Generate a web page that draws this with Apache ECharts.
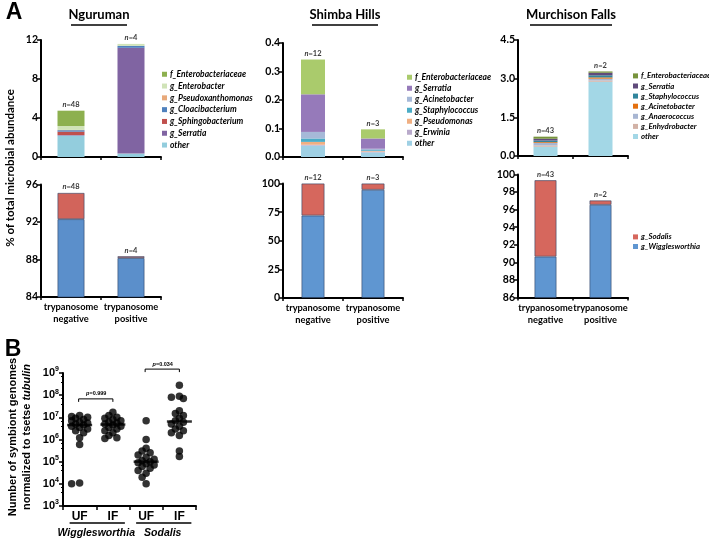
<!DOCTYPE html>
<html><head><meta charset="utf-8">
<script src="https://cdn.jsdelivr.net/npm/echarts@6/dist/echarts.min.js"></script>
<style>html,body{margin:0;padding:0;background:#fff}#c{width:709px;height:541px}</style>
</head><body><div id="c"></div>
<script>
// ---------------- DATA ----------------
const trypCats = ['trypanosome\nnegative', 'trypanosome\npositive'];

// Nguruman (top, % abundance of minor taxa) [negative, positive]
const ngOther = [2.20, 0.35];
const ngSerratia = [0.05, 10.85];
const ngSphingobacterium = [0.35, 0.00];
const ngCloacibacterium = [0.15, 0.20];
const ngPseudoxanthomonas = [0.03, 0.00];
const ngEnterobacter = [0.40, 0.20];
const ngEnterobacteriaceae = [1.57, 0.00];
const ngWigglesworthia = [92.30, 88.15];
const ngSodalis = [2.80, 0.20];
const ngN = ['48', '4'];

// Shimba Hills
const shOther = [0.040, 0.016];
const shErwinia = [0.003, 0.003];
const shPseudomonas = [0.010, 0.002];
const shStaphylococcus = [0.012, 0.003];
const shAcinetobacter = [0.023, 0.005];
const shSerratia = [0.132, 0.036];
const shEnterobacteriaceae = [0.122, 0.032];
const shWigglesworthia = [72.0, 94.5];
const shSodalis = [28.0, 5.5];
const shN = ['12', '3'];

// Murchison Falls
const mfOther = [0.36, 2.88];
const mfEnhydrobacter = [0.05, 0.05];
const mfAnaerococcus = [0.10, 0.07];
const mfAcinetobacter = [0.03, 0.05];
const mfStaphylococcus = [0.06, 0.08];
const mfSerratia = [0.07, 0.10];
const mfEnterobacteriaceae = [0.08, 0.05];
const mfWigglesworthia = [90.65, 96.55];
const mfSodalis = [8.70, 0.50];
const mfN = ['43', '2'];

// Panel B: symbiont genomes normalized to tsetse tubulin
const bCats = ['UF', 'IF', 'UF', 'IF'];
const bGroups = ['Wigglesworthia', 'Sodalis'];
const wigUF = [1.2e7, 1.1e7, 1.0e7, 9e6, 8e6, 7e6, 6e6, 5.5e6, 5e6, 4.5e6, 4e6, 3.5e6, 3e6, 2.5e6, 2e6, 1.2e6, 6e5, 1.0e4, 1.1e4];
const wigIF = [1.7e7, 1.2e7, 1.0e7, 9e6, 8e6, 7e6, 6e6, 5.5e6, 5e6, 4.5e6, 4e6, 3.5e6, 3e6, 2.5e6, 2e6, 1.5e6, 1.2e6, 1.1e6];
const sodUF = [7e6, 1e6, 4e5, 3e5, 2.5e5, 2e5, 1.6e5, 1.3e5, 1.1e5, 1e5, 9e4, 8e4, 7e4, 6e4, 5e4, 4e4, 3e4, 2e4, 1e4];
const sodIF = [2.8e8, 9e7, 8e7, 7e7, 2e7, 1.5e7, 1.2e7, 9e6, 7e6, 6e6, 5e6, 4e6, 3e6, 2.5e6, 2e6, 1.5e6, 3e5, 1.7e5];
const pValues = ['0.999', '0.034'];
const pHeights = [6.8e7, 1.5e9];

// ---------------- CHART ----------------
const FA = 'Lato, "Open Sans", sans-serif';
const FB = '"Liberation Sans", Arial, sans-serif';

// layers bottom -> top
const ngLayers = [
  ['other', ngOther, '#93CDDD'], ['g_Serratia', ngSerratia, '#8064A2'], ['g_Sphingobacterium', ngSphingobacterium, '#C0504D'],
  ['g_Cloacibacterium', ngCloacibacterium, '#4F81BD'], ['g_Pseudoxanthomonas', ngPseudoxanthomonas, '#E8A97A'],
  ['g_Enterobacter', ngEnterobacter, '#D0E3B8'], ['f_Enterobacteriaceae', ngEnterobacteriaceae, '#8DB04F']];
const shLayers = [
  ['other', shOther, '#9FD0E4'], ['g_Erwinia', shErwinia, '#B9AACB'], ['g_Pseudomonas', shPseudomonas, '#F0AF82'],
  ['g_Staphylococcus', shStaphylococcus, '#4BACC6'], ['g_Acinetobacter', shAcinetobacter, '#A6B9D8'],
  ['g_Serratia', shSerratia, '#967ABA'], ['f_Enterobacteriaceae', shEnterobacteriaceae, '#AACB6C']];
const mfLayers = [
  ['other', mfOther, '#A3D7E6'], ['g_Enhydrobacter', mfEnhydrobacter, '#D2B2A6'], ['g_Anaerococcus', mfAnaerococcus, '#A8B6D2'],
  ['g_Acinetobacter', mfAcinetobacter, '#E4700F'], ['g_Staphylococcus', mfStaphylococcus, '#31859C'],
  ['g_Serratia', mfSerratia, '#604A7B'], ['f_Enterobacteriaceae', mfEnterobacteriaceae, '#77933C']];
const ngSym = [['g_Wigglesworthia', ngWigglesworthia, '#5B8FCB'], ['g_Sodalis', ngSodalis, '#D2645B']];
const shSym = [['g_Wigglesworthia', shWigglesworthia, '#5F96D1'], ['g_Sodalis', shSodalis, '#D6675D']];
const mfSym = [['g_Wigglesworthia', mfWigglesworthia, '#5F96D1'], ['g_Sodalis', mfSodalis, '#D6675D']];

const grid = [
  {left: 41, top: 40, width: 120, height: 117},
  {left: 41, top: 184.5, width: 120, height: 112.5},
  {left: 283, top: 43, width: 120, height: 114},
  {left: 283, top: 183.5, width: 120, height: 114.5},
  {left: 518, top: 40, width: 110, height: 116},
  {left: 518, top: 174.5, width: 110, height: 123},
  {left: 63, top: 373, width: 133, height: 133}
];

function catX(gi, showLabel) {
  return {type: 'category', gridIndex: gi, data: trypCats,
    axisLine: {onZero: false, lineStyle: {color: '#000', width: 2}},
    axisTick: {show: true, length: 3, lineStyle: {color: '#000', width: 1.5}},
    axisLabel: {show: showLabel, interval: 0, color: '#000', fontFamily: FA, fontWeight: 'bold', fontSize: 9.3, lineHeight: 12, margin: 4},
    splitLine: {show: false}};
}
function valY(gi, min, max, interval, fmt) {
  return {type: 'value', gridIndex: gi, min, max, interval,
    axisLine: {show: true, lineStyle: {color: '#000', width: 2}},
    axisTick: {show: true, length: 4, lineStyle: {color: '#000', width: 1.5}},
    axisLabel: {color: '#000', fontFamily: FA, fontWeight: 'bold', fontSize: 10.5, margin: 3, formatter: fmt},
    splitLine: {show: false}};
}
function stackSeries(gi, prefix, layers, barWidth, border) {
  return layers.map(([name, arr, color]) => ({
    type: 'bar', name: prefix + '|' + name, xAxisIndex: gi, yAxisIndex: gi, stack: 's' + gi,
    barWidth, data: arr, clip: true, silent: true,
    itemStyle: {color, borderColor: border ? 'rgba(45,65,100,0.75)' : color, borderWidth: border ? 0.8 : 0}
  }));
}
function nSeries(gi, layers, ns) {
  const totals = layers[0][1].map((_, i) => layers.reduce((s, l) => s + l[1][i], 0));
  const rs = {fontWeight: 'bold', fontSize: 7.5, fontFamily: FA, color: '#000'};
  return {type: 'scatter', xAxisIndex: gi, yAxisIndex: gi, symbolSize: 0, silent: true,
    data: totals.map((t, i) => [i, t]),
    label: {show: true, position: 'top', distance: 2,
      formatter: p => '{i|n}{t|=' + ns[p.dataIndex] + '}',
      rich: {i: Object.assign({fontStyle: 'italic'}, rs), t: rs}}};
}
function legend(prefix, layers, left, top, gap, fs) {
  return {orient: 'vertical', left, top, itemWidth: 5, itemHeight: 5, itemGap: gap, selectedMode: false, icon: 'rect',
    itemStyle: {borderWidth: 0},
    data: layers.slice().reverse().map(l => prefix + '|' + l[0]),
    formatter: n => n.split('|')[1],
    textStyle: {fontFamily: FA, fontStyle: 'italic', fontWeight: 'bold', fontSize: fs, lineHeight: fs + 1, color: '#000', padding: [0, 0, 0, -2]}};
}
function swarm(vals) {
  const ppd = 22.2, d = 4.6, offs = [0, -4, 4, -8, 8];
  const placed = [], res = new Array(vals.length);
  vals.map((v, i) => i).sort((a, b) => vals[b] - vals[a]).forEach(i => {
    const y = Math.log10(vals[i]) * ppd;
    const minD = o => placed.reduce((m, p) => Math.min(m, Math.hypot(p.x - o, p.y - y)), Infinity);
    let o = offs.find(o => minD(o) >= d);
    if (o === undefined) o = offs.reduce((b, c) => (minD(c) > minD(b) ? c : b), offs[0]);
    placed.push({x: o, y}); res[i] = o;
  });
  return res;
}
function median(a) {
  const s = a.slice().sort((x, y) => x - y), m = s.length >> 1;
  return s.length % 2 ? s[m] : Math.sqrt(s[m - 1] * s[m]);
}

const groupsB = [wigUF, wigIF, sodUF, sodIF];
const fmt1 = v => v.toFixed(1);

const series = [].concat(
  stackSeries(0, 'ng', ngLayers, 27, false), [nSeries(0, ngLayers, ngN)],
  stackSeries(1, 'ngb', ngSym, 27, true), [nSeries(1, ngSym, ngN)],
  stackSeries(2, 'sh', shLayers, 24, false), [nSeries(2, shLayers, shN)],
  stackSeries(3, 'shb', shSym, 23, true), [nSeries(3, shSym, shN)],
  stackSeries(4, 'mf', mfLayers, 24, false), [nSeries(4, mfLayers, mfN)],
  stackSeries(5, 'mfb', mfSym, 22, true), [nSeries(5, mfSym, mfN)],
  groupsB.map((vals, ci) => {
    const off = swarm(vals);
    return {type: 'scatter', xAxisIndex: 6, yAxisIndex: 6, symbol: 'circle', symbolSize: 7.5, silent: true,
      itemStyle: {color: '#000'},
      data: vals.map((v, i) => ({value: [ci, v], symbolOffset: [off[i], 0]}))};
  }),
  [{type: 'scatter', xAxisIndex: 6, yAxisIndex: 6, symbol: 'rect', symbolSize: [25, 2.5], silent: true, z: 5,
    itemStyle: {color: '#000'}, data: groupsB.map((vals, ci) => [ci, median(vals)])}]
);

const rsB = {fontWeight: 'bold', fontFamily: FB, color: '#000'};
const option = {
  animation: false,
  backgroundColor: '#fff',
  grid,
  xAxis: [catX(0, false), catX(1, true), catX(2, false), catX(3, true), catX(4, false), catX(5, true),
    {type: 'category', gridIndex: 6, data: bCats,
      axisLine: {onZero: false, lineStyle: {color: '#000', width: 2}},
      axisTick: {show: true, length: 4, lineStyle: {color: '#000', width: 1.5}},
      axisLabel: {interval: 0, color: '#000', fontFamily: FB, fontWeight: 'bold', fontSize: 12, margin: 5}},
    {type: 'category', gridIndex: 6, data: bGroups, position: 'bottom', offset: 19,
      axisLine: {show: false}, axisTick: {show: false},
      axisLabel: {interval: 0, color: '#000', fontFamily: FB, fontWeight: 'bold', fontStyle: 'italic', fontSize: 10.5, margin: 3}}
  ],
  yAxis: [valY(0, 0, 12, 4), valY(1, 84, 96, 4), valY(2, 0, 0.4, 0.1, fmt1), valY(3, 0, 100, 25),
    valY(4, 0, 4.5, 1.5, fmt1), valY(5, 86, 100, 2),
    {type: 'log', gridIndex: 6, logBase: 10, min: 1e3, max: 1e9,
      axisLine: {show: true, lineStyle: {color: '#000', width: 2}},
      axisTick: {show: true, length: 4, lineStyle: {color: '#000', width: 1.5}},
      minorTick: {show: true, splitNumber: 3, length: 2, lineStyle: {color: '#000', width: 1}},
      splitLine: {show: false}, minorSplitLine: {show: false},
      axisLabel: {margin: 4, formatter: v => '{b|10}{s|' + Math.round(Math.log10(v)) + '}',
        rich: {b: Object.assign({fontSize: 11, lineHeight: 14}, rsB), s: Object.assign({fontSize: 7, verticalAlign: 'top'}, rsB)}}}
  ],
  legend: [legend('ng', ngLayers, 157, 64.5, 2.3, 8.5), legend('sh', shLayers, 402, 67.5, 1.5, 8.5),
    legend('mf', mfLayers, 628, 66.5, 1.3, 7.8), legend('mfb', mfSym, 628, 227.5, 0.8, 7.8)],
  series
};

const chart = echarts.init(document.getElementById('c'));
chart.setOption(option);

// annotations computed from the scales
const txt = (x, y, text, font, extra) => Object.assign({type: 'text', x, y, style: {text, font, fill: '#000', align: 'center', verticalAlign: 'middle'}}, extra || {});
const line = (x1, y1, x2, y2, w) => ({type: 'line', shape: {x1, y1, x2, y2}, style: {stroke: '#000', lineWidth: w || 1}});
const g = [];
g.push(txt(14, 13, 'A', 'bold 23px ' + FB));
g.push(txt(13, 350, 'B', 'bold 23px ' + FB));
[['Nguruman', 99, 71, 127], ['Shimba Hills', 345, 312, 378], ['Murchison Falls', 571, 530, 612]].forEach(([t, cx, a, b]) => {
  g.push(txt(cx, 15, t, 'bold 13px ' + FA));
  g.push(line(a, 25, b, 25, 1.6));
});
g.push(txt(10, 168, '% of total microbial abundance', 'bold 11.5px ' + FA, {rotation: Math.PI / 2}));
g.push(txt(13, 437, 'Number of symbiont genomes', 'bold 11px ' + FB, {rotation: Math.PI / 2}));
g.push({type: 'text', x: 27, y: 437, rotation: Math.PI / 2,
  style: {text: 'normalized to tsetse {i|tubulin}', font: 'bold 11px ' + FB, fill: '#000', align: 'center', verticalAlign: 'middle',
    rich: {i: {fontStyle: 'italic', fontWeight: 'bold', fontSize: 11, fontFamily: FB}}}});
const px = (ci, v) => chart.convertToPixel({xAxisIndex: 6, yAxisIndex: 6}, [ci, v]);
// group underlines
[[0, 1], [2, 3]].forEach(([a, b]) => {
  const pa = px(a, 1e3), pb = px(b, 1e3);
  g.push(line(pa[0] - 10, pa[1] + 17, pb[0] + 12, pa[1] + 17, 1.3));
});
// p-value brackets
[[0, 1], [2, 3]].forEach(([a, b], k) => {
  const pa = px(a, pHeights[k]), pb = px(b, pHeights[k]);
  const y = pa[1];
  g.push({type: 'polyline', shape: {points: [[pa[0] - 1, y + 3], [pa[0] - 1, y], [pb[0], y], [pb[0], y + 3]]}, style: {stroke: '#000', lineWidth: 1, fill: null}});
  g.push({type: 'text', x: (pa[0] + pb[0]) / 2, y: y - 5,
    style: {text: '{i|p}=' + pValues[k], font: 'bold 5.5px ' + FB, fill: '#000', align: 'center', verticalAlign: 'middle',
      rich: {i: {fontStyle: 'italic', fontWeight: 'bold', fontSize: 5.5, fontFamily: FB}}}});
});
chart.setOption({graphic: g});
</script></body></html>
